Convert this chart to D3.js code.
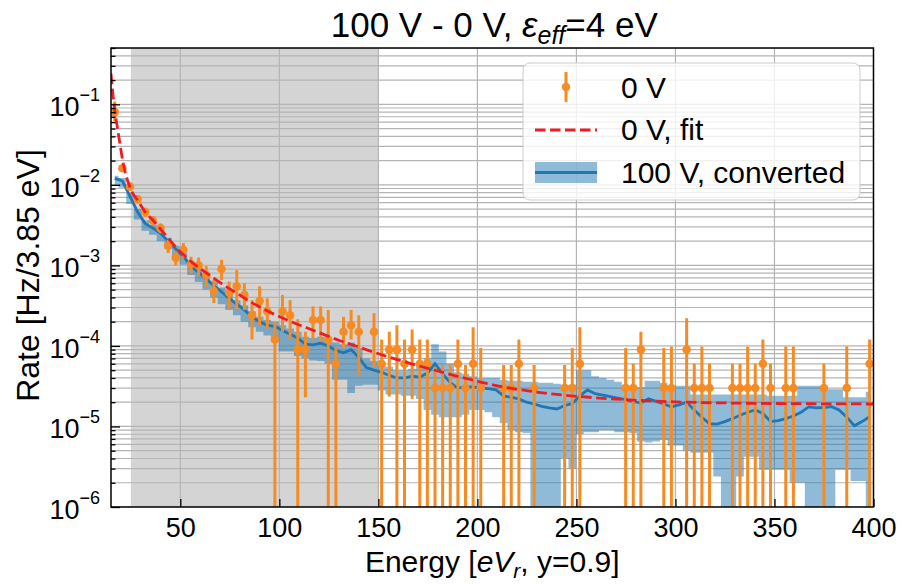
<!DOCTYPE html>
<html>
<head>
<meta charset="utf-8">
<title>100 V - 0 V rate</title>
<style>
    body { margin: 0; background: #fff; }
    svg text { font-family: "Liberation Sans", Arial, sans-serif; fill: #000; }
    g.grid line { stroke: #b4b4b4; stroke-width: 1.2; }
    g.axis line { stroke: #000; stroke-width: 1.3; }
    path.band { fill: #1f77b4; fill-opacity: 0.5; stroke: none; }
    path.conv { fill: none; stroke: #1f77b4; stroke-width: 2.8; }
    path.fit { fill: none; stroke: #ee1c25; stroke-width: 2.8; stroke-dasharray: 10.5,4.5; }
    g.zero line { stroke: #f68b24; stroke-width: 3; }
    g.zero circle { fill: #f68b24; }
</style>
</head>
<body>
<div id="chart"></div>
<script src="https://cdnjs.cloudflare.com/ajax/libs/d3/7.8.5/d3.min.js"></script>
<script>
    // bin centres (3.85 eV bins)
    var binEnergy = [16.90, 20.75, 24.60, 28.45, 32.30, 36.15, 40.00, 43.85, 47.70, 51.55,
        55.40, 59.25, 63.10, 66.95, 70.80, 74.65, 78.50, 82.35, 86.20, 90.05,
        93.90, 97.75, 101.60, 105.45, 109.30, 113.15, 117.00, 120.85, 124.70, 128.55,
        132.40, 136.25, 140.10, 143.95, 147.80, 151.65, 155.50, 159.35, 163.20, 167.05,
        170.90, 174.75, 178.60, 182.45, 186.30, 190.15, 194.00, 197.85, 201.70, 205.55,
        209.40, 213.25, 217.10, 220.95, 224.80, 228.65, 232.50, 236.35, 240.20, 244.05,
        247.90, 251.75, 255.60, 259.45, 263.30, 267.15, 271.00, 274.85, 278.70, 282.55,
        286.40, 290.25, 294.10, 297.95, 301.80, 305.65, 309.50, 313.35, 317.20, 321.05,
        324.90, 328.75, 332.60, 336.45, 340.30, 344.15, 348.00, 351.85, 355.70, 359.55,
        363.40, 367.25, 371.10, 374.95, 378.80, 382.65, 386.50, 390.35, 394.20, 398.05];

    // 100 V, converted: line and band
    var convRate = [1.2e-2, 1.12e-2, 7.2e-3, 4.6e-3, 3.3e-3, 2.9e-3, 2.5e-3, 2.0e-3, 1.6e-3, 1.3e-3,
        9.7e-4, 8.2e-4, 6.8e-4, 5.6e-4, 4.7e-4, 3.9e-4, 3.3e-4, 2.8e-4, 2.3e-4, 2.0e-4,
        1.8e-4, 1.75e-4, 1.55e-4, 1.4e-4, 1.25e-4, 1.05e-4, 1.03e-4, 1.08e-4, 1.0e-4, 8.8e-5,
        8.2e-5, 9.0e-5, 7.2e-5, 5.4e-5, 5.0e-5, 4.7e-5, 4.3e-5, 4.0e-5, 4.0e-5, 4.2e-5,
        4.1e-5, 4.6e-5, 6.0e-5, 4.5e-5, 3.5e-5, 3.0e-5, 3.1e-5, 3.1e-5, 3.0e-5, 2.95e-5,
        2.85e-5, 2.4e-5, 2.3e-5, 2.2e-5, 2.0e-5, 1.9e-5, 1.78e-5, 1.7e-5, 1.65e-5, 1.82e-5,
        1.92e-5, 2.4e-5, 2.84e-5, 2.55e-5, 2.45e-5, 2.35e-5, 2.25e-5, 2.15e-5, 2.05e-5, 1.95e-5,
        2.2e-5, 2.05e-5, 1.9e-5, 1.75e-5, 1.85e-5, 2.0e-5, 1.6e-5, 1.3e-5, 1.08e-5, 1.07e-5,
        1.15e-5, 1.25e-5, 1.38e-5, 1.5e-5, 1.6e-5, 1.45e-5, 1.15e-5, 1.18e-5, 1.25e-5, 1.35e-5,
        1.5e-5, 1.75e-5, 1.7e-5, 1.72e-5, 1.76e-5, 1.6e-5, 1.3e-5, 1.02e-5, 1.15e-5, 1.32e-5];
    var convLow = [1.0e-2, 9.2e-3, 5.8e-3, 3.7e-3, 2.7e-3, 2.4e-3, 2.0e-3, 1.6e-3, 1.28e-3, 1.02e-3,
        7.6e-4, 6.2e-4, 5.0e-4, 4.0e-4, 3.3e-4, 2.8e-4, 2.4e-4, 2.0e-4, 1.7e-4, 1.5e-4,
        1.35e-4, 1.2e-4, 8.5e-5, 8.5e-5, 7.5e-5, 7.0e-5, 6.6e-5, 6.5e-5, 6.0e-5, 3.8e-5,
        3.8e-5, 2.6e-5, 3.2e-5, 3.3e-5, 3.3e-5, 2.8e-5, 2.5e-5, 2.5e-5, 2.4e-5, 2.4e-5,
        2.2e-5, 1.6e-5, 1.4e-5, 1.3e-5, 1.3e-5, 1.3e-5, 1.4e-5, 1.6e-5, 1.6e-5, 1.5e-5,
        1.3e-5, 1.1e-5, 9.0e-6, 8.5e-6, 8.3e-6, 0, 0, 0, 0, 4.0e-6,
        3.0e-6, 8.0e-6, 8.5e-6, 8.5e-6, 9.0e-6, 9.0e-6, 8.5e-6, 8.5e-6, 8.3e-6, 6.5e-6,
        6.3e-6, 6.5e-6, 6.8e-6, 5.8e-6, 5.8e-6, 5.0e-6, 4.7e-6, 4.7e-6, 4.7e-6, 2.4e-6,
        0, 0, 2.4e-6, 4.2e-6, 4.2e-6, 2.9e-6, 2.9e-6, 2.9e-6, 2.9e-6, 2.0e-6,
        2.0e-6, 0, 0, 0, 0, 2.9e-6, 2.9e-6, 2.1e-6, 2.1e-6, 0];
    var convHigh = [1.3e-2, 1.22e-2, 7.9e-3, 5.0e-3, 3.6e-3, 3.2e-3, 2.7e-3, 2.2e-3, 1.75e-3, 1.43e-3,
        1.07e-3, 9.1e-4, 7.6e-4, 6.3e-4, 5.3e-4, 4.4e-4, 3.7e-4, 3.2e-4, 2.7e-4, 2.3e-4,
        2.1e-4, 2.0e-4, 1.8e-4, 1.65e-4, 1.5e-4, 1.3e-4, 1.25e-4, 1.3e-4, 1.2e-4, 1.1e-4,
        1.05e-4, 1.1e-4, 9.5e-5, 7.0e-5, 6.5e-5, 6.0e-5, 5.5e-5, 5.0e-5, 5.0e-5, 5.2e-5,
        5.6e-5, 7.0e-5, 1.05e-4, 8.5e-5, 6.0e-5, 4.7e-5, 4.5e-5, 4.2e-5, 4.0e-5, 4.0e-5,
        4.0e-5, 3.8e-5, 3.7e-5, 3.7e-5, 3.6e-5, 3.6e-5, 3.5e-5, 3.5e-5, 3.4e-5, 3.3e-5,
        3.3e-5, 5.0e-5, 5.0e-5, 4.2e-5, 4.0e-5, 3.8e-5, 3.6e-5, 3.3e-5, 3.1e-5, 3.1e-5,
        3.7e-5, 3.7e-5, 3.5e-5, 3.2e-5, 3.2e-5, 3.2e-5, 2.5e-5, 2.5e-5, 2.5e-5, 2.5e-5,
        2.5e-5, 2.5e-5, 2.5e-5, 2.5e-5, 2.5e-5, 2.5e-5, 2.4e-5, 2.4e-5, 2.4e-5, 2.4e-5,
        3.2e-5, 3.2e-5, 3.2e-5, 2.9e-5, 2.9e-5, 2.9e-5, 2.3e-5, 2.3e-5, 2.3e-5, 2.7e-5];

    // 0 V data points (bins with counts only)
    var zeroEnergy = [16.90, 20.75, 24.60, 28.45, 32.30, 36.15, 40.00, 43.85, 47.70, 51.55,
        55.40, 59.25, 63.10, 66.95, 70.80, 74.65, 78.50, 82.35, 86.20, 90.05,
        93.90, 97.75, 101.60, 105.45, 109.30, 113.15, 117.00, 120.85, 124.70, 128.55,
        132.40, 136.25, 140.10, 147.80, 151.65, 155.50, 159.35, 163.20, 167.05, 170.90,
        174.75, 178.60, 182.45, 186.30, 190.15, 194.00, 197.85, 201.70, 213.25, 217.10,
        220.95, 228.65, 244.05, 247.90, 251.75, 274.85, 278.70, 282.55, 294.10, 297.95,
        305.65, 309.50, 313.35, 317.20, 328.75, 332.60, 336.45, 340.30, 344.15, 348.00,
        355.70, 359.55, 374.95, 386.50, 398.05];
    var zeroRate = [8.0e-2, 1.61e-2, 9.5e-3, 6.6e-3, 4.6e-3, 3.6e-3, 2.9e-3, 1.75e-3, 1.24e-3, 1.56e-3,
        1.04e-3, 1.0e-3, 7.6e-4, 4.8e-4, 9.0e-4, 4.6e-4, 5.5e-4, 4.3e-4, 2.4e-4, 3.6e-4,
        2.7e-4, 1.2e-4, 2.7e-4, 2.4e-4, 9e-5, 9e-5, 2.1e-4, 2.1e-4, 1.2e-4, 6e-5,
        1.5e-4, 1.8e-4, 1.5e-4, 1.5e-4, 6e-5, 9e-5, 9e-5, 6e-5, 9e-5, 6e-5,
        6e-5, 3e-5, 3e-5, 3e-5, 6e-5, 3e-5, 6e-5, 3e-5, 3e-5, 3e-5,
        6e-5, 3e-5, 3e-5, 3e-5, 6e-5, 3e-5, 3e-5, 9e-5, 3e-5, 3e-5,
        9e-5, 3e-5, 3e-5, 3e-5, 3e-5, 3e-5, 3e-5, 3e-5, 6e-5, 3e-5,
        3e-5, 3e-5, 3e-5, 3e-5, 6e-5];
    var zeroLow = [6.1e-2, 1.46e-2, 8.6e-3, 5.9e-3, 4.0e-3, 3.1e-3, 2.5e-3, 1.42e-3, 1.0e-3, 1.22e-3,
        8.0e-4, 7.5e-4, 5.4e-4, 3.4e-4, 6.6e-4, 2.9e-4, 2.8e-4, 2.8e-4, 1.2e-4, 1.8e-4,
        1.65e-4, 0, 1.5e-4, 1.2e-4, 0, 2.3e-5, 1.2e-4, 1.13e-4, 0, 0,
        9.4e-5, 1.2e-4, 4.2e-5, 5.5e-5, 0, 2.35e-5, 0, 0, 2.2e-5, 0,
        0, 0, 0, 0, 0, 0, 0, 0, 0, 0,
        0, 0, 0, 0, 0, 0, 0, 0, 0, 0,
        0, 0, 0, 0, 0, 0, 0, 0, 0, 0,
        0, 0, 0, 0, 0];
    var zeroHigh = [1.08e-1, 1.77e-2, 1.05e-2, 7.4e-3, 5.2e-3, 4.1e-3, 3.3e-3, 2.08e-3, 1.5e-3, 1.9e-3,
        1.28e-3, 1.25e-3, 9.8e-4, 6.6e-4, 1.17e-3, 6.3e-4, 8.8e-4, 6.0e-4, 3.7e-4, 5.5e-4,
        3.9e-4, 2.0e-4, 4.3e-4, 3.7e-4, 2.15e-4, 1.5e-4, 3.1e-4, 3.1e-4, 2.8e-4, 9.4e-5,
        2.3e-4, 2.8e-4, 2.4e-4, 2.55e-4, 1.2e-4, 1.5e-4, 1.8e-4, 1.2e-4, 1.6e-4, 1.2e-4,
        1.2e-4, 5.5e-5, 5.8e-5, 6.0e-5, 1.2e-4, 5.8e-5, 1.7e-4, 9.4e-5, 5.8e-5, 5.8e-5,
        1.2e-4, 5.8e-5, 5.8e-5, 9.4e-5, 1.7e-4, 9.4e-5, 6.0e-5, 1.5e-4, 9.4e-5, 9.8e-5,
        2.2e-4, 6.0e-5, 9.8e-5, 6.0e-5, 6.0e-5, 6.0e-5, 9.8e-5, 6.0e-5, 1.2e-4, 6.0e-5,
        9.8e-5, 9.8e-5, 6.0e-5, 9.8e-5, 1.2e-4];

    // 0 V fit
    var fitEnergy = [15, 16.5, 18.5, 21.1, 25.1, 28.5, 32, 37, 40.4, 44.6,
        48.8, 53, 57.3, 60.6, 67.4, 74.1, 80.1, 88, 97, 105,
        113.8, 122, 130.6, 139, 147.4, 160.9, 175.2, 192.1, 208.9, 229.1,
        252.7, 276.2, 300, 330, 360, 400];
    var fitRate = [0.24, 0.10, 0.047, 0.0188, 0.0087, 0.0064, 0.0047, 0.00345, 0.00275, 0.00207,
        0.00158, 0.00126, 0.00102, 0.00089, 0.00068, 0.000525, 0.000427, 0.000324, 0.00025, 0.000204,
        0.000168, 0.00014, 0.000116, 0.000099, 0.000084, 0.000066, 0.0000525, 0.0000407, 0.0000324, 0.0000269,
        0.0000234, 0.0000214, 0.0000202, 0.0000195, 0.0000192, 0.000019];

    var xTicks = [50, 100, 150, 200, 250, 300, 350, 400];
    var yDecades = [1e-6, 1e-5, 1e-4, 1e-3, 1e-2, 1e-1];
    var yExponents = ['−6', '−5', '−4', '−3', '−2', '−1'];
    var shadedRange = [25, 150];

    var W = 904, H = 584;
    var plot = {left: 111, right: 873.5, top: 48, bottom: 507};
    var font = '"Liberation Sans", Arial, sans-serif';

    var x = d3.scaleLinear().domain([15, 400]).range([plot.left, plot.right]);
    var y = d3.scaleLog().domain([1e-6, 0.5]).range([plot.bottom, plot.top]);
    var yFloor = function (v) { return y(Math.max(v, 1e-7)); };

    var svg = d3.select('#chart').append('svg')
            .attr('width', W).attr('height', H);

    svg.append('defs').append('clipPath').attr('id', 'plotClip')
            .append('rect')
            .attr('x', plot.left).attr('y', plot.top)
            .attr('width', plot.right - plot.left).attr('height', plot.bottom - plot.top);

    var gPlot = svg.append('g').attr('clip-path', 'url(#plotClip)');

    // grey energy window
    gPlot.append('rect')
            .attr('x', x(shadedRange[0])).attr('y', plot.top)
            .attr('width', x(shadedRange[1]) - x(shadedRange[0]))
            .attr('height', plot.bottom - plot.top)
            .attr('fill', '#d4d4d4');

    // grid, major + minor on y, major on x
    var gGrid = gPlot.append('g').attr('class', 'grid');
    gGrid.selectAll('line.h').data(y.ticks()).enter().append('line')
            .attr('class', 'h')
            .attr('x1', plot.left).attr('x2', plot.right)
            .attr('y1', function (d) { return y(d); })
            .attr('y2', function (d) { return y(d); });
    gGrid.selectAll('line.v').data(xTicks).enter().append('line')
            .attr('class', 'v')
            .attr('y1', plot.top).attr('y2', plot.bottom)
            .attr('x1', function (d) { return x(d); })
            .attr('x2', function (d) { return x(d); });

    var conv = binEnergy.map(function (e, i) {
        return {e: e, v: convRate[i], lo: convLow[i], hi: convHigh[i]};
    });

    gPlot.append('path').datum(conv)
            .attr('class', 'band')
            .attr('d', d3.area()
                    .curve(d3.curveStep)
                    .x(function (d) { return x(d.e); })
                    .y0(function (d) { return yFloor(d.lo); })
                    .y1(function (d) { return y(d.hi); }));

    gPlot.append('path').datum(conv)
            .attr('class', 'conv')
            .attr('d', d3.line()
                    .x(function (d) { return x(d.e); })
                    .y(function (d) { return y(d.v); }));

    // 0 V points with error bars
    var zero = zeroEnergy.map(function (e, i) {
        return {e: e, v: zeroRate[i], lo: zeroLow[i], hi: zeroHigh[i]};
    });
    var gZero = gPlot.append('g').attr('class', 'zero');
    gZero.selectAll('line').data(zero).enter().append('line')
            .attr('x1', function (d) { return x(d.e); })
            .attr('x2', function (d) { return x(d.e); })
            .attr('y1', function (d) { return y(d.hi); })
            .attr('y2', function (d) { return yFloor(d.lo); });
    gZero.selectAll('circle').data(zero).enter().append('circle')
            .attr('cx', function (d) { return x(d.e); })
            .attr('cy', function (d) { return y(d.v); })
            .attr('r', 4.3);

    // fit
    var fit = fitEnergy.map(function (e, i) { return {e: e, v: fitRate[i]}; });
    gPlot.append('path').datum(fit)
            .attr('class', 'fit')
            .attr('d', d3.line()
                    .curve(d3.curveMonotoneX)
                    .x(function (d) { return x(d.e); })
                    .y(function (d) { return y(d.v); }));

    // axes (ticks pointing in)
    var gx = svg.append('g').attr('class', 'axis')
            .attr('transform', 'translate(0,' + plot.bottom + ')')
            .call(d3.axisBottom(x).tickValues(xTicks)
                    .tickSizeInner(-8).tickSizeOuter(0).tickPadding(11));
    gx.select('.domain').remove();
    gx.attr('font-size', 27).attr('font-family', font);

    var minorTicks = y.ticks().filter(function (v) {
        return yDecades.indexOf(v) < 0;
    });
    var gyMinor = svg.append('g').attr('class', 'axis')
            .attr('transform', 'translate(' + plot.left + ',0)')
            .call(d3.axisLeft(y).tickValues(minorTicks).tickSizeInner(-4.5)
                    .tickSizeOuter(0).tickFormat(''));
    gyMinor.select('.domain').remove();
    var gyMajor = svg.append('g').attr('class', 'axis')
            .attr('transform', 'translate(' + plot.left + ',0)')
            .call(d3.axisLeft(y).tickValues(yDecades).tickSizeInner(-9)
                    .tickSizeOuter(0).tickFormat(''));
    gyMajor.select('.domain').remove();

    var yLab = svg.append('g').selectAll('text').data(yDecades).enter().append('text')
            .attr('x', 100)
            .attr('y', function (d) { return y(d) + 12; })
            .attr('text-anchor', 'end')
            .attr('font-size', 27);
    yLab.append('tspan').text('10');
    yLab.append('tspan').attr('font-size', 18).attr('dy', -15)
            .text(function (d, i) { return yExponents[i]; });

    // frame
    svg.append('rect')
            .attr('x', plot.left).attr('y', plot.top)
            .attr('width', plot.right - plot.left).attr('height', plot.bottom - plot.top)
            .attr('fill', 'none').attr('stroke', '#000').attr('stroke-width', 1.5);

    // legend
    var gLeg = svg.append('g');
    gLeg.append('rect')
            .attr('x', 523).attr('y', 63).attr('width', 337).attr('height', 137)
            .attr('rx', 7)
            .attr('fill', '#fff').attr('fill-opacity', 0.8)
            .attr('stroke', '#cccccc').attr('stroke-width', 1);
    gLeg.append('line')
            .attr('x1', 566).attr('x2', 566).attr('y1', 72).attr('y2', 102)
            .attr('stroke', '#f68b24').attr('stroke-width', 3);
    gLeg.append('circle').attr('cx', 566).attr('cy', 87).attr('r', 4.3).attr('fill', '#f68b24');
    gLeg.append('line')
            .attr('x1', 535).attr('x2', 597).attr('y1', 130).attr('y2', 130)
            .attr('stroke', '#ee1c25').attr('stroke-width', 2.8)
            .attr('stroke-dasharray', '10.5,4.5');
    gLeg.append('rect')
            .attr('x', 535).attr('y', 162).attr('width', 62).attr('height', 21)
            .attr('fill', '#1f77b4').attr('fill-opacity', 0.5);
    gLeg.append('line')
            .attr('x1', 535).attr('x2', 597).attr('y1', 172.5).attr('y2', 172.5)
            .attr('stroke', '#1f77b4').attr('stroke-width', 2.8);
    var legendLabels = ['0 V', '0 V, fit', '100 V, converted'];
    var legendBase = [98, 140, 183];
    gLeg.selectAll('text.leg').data(legendLabels).enter().append('text')
            .attr('class', 'leg')
            .attr('x', 621)
            .attr('y', function (d, i) { return legendBase[i]; })
            .attr('font-size', 30)
            .text(function (d) { return d; });

    // title
    var title = svg.append('text')
            .attr('x', (plot.left + plot.right) / 2 + 2).attr('y', 37)
            .attr('text-anchor', 'middle').attr('font-size', 35);
    title.append('tspan').text('100 V - 0 V, ');
    title.append('tspan').attr('font-style', 'italic').text('ε');
    title.append('tspan').attr('font-style', 'italic').attr('font-size', 25).attr('dy', 7).text('eff');
    title.append('tspan').attr('dy', -7).text('=4 eV');

    // axis labels
    var xl = svg.append('text')
            .attr('x', (plot.left + plot.right) / 2).attr('y', 572)
            .attr('text-anchor', 'middle').attr('font-size', 30);
    xl.append('tspan').text('Energy [');
    xl.append('tspan').attr('font-style', 'italic').text('eV');
    xl.append('tspan').attr('font-style', 'italic').attr('font-size', 21).attr('dy', 6).text('r');
    xl.append('tspan').attr('dy', -6).text(', y=0.9]');

    svg.append('text')
            .attr('transform', 'translate(39,' + ((plot.top + plot.bottom) / 2 - 2) + ') rotate(-90)')
            .attr('text-anchor', 'middle').attr('font-size', 32)
            .text('Rate [Hz/3.85 eV]');
</script>
</body>
</html>
